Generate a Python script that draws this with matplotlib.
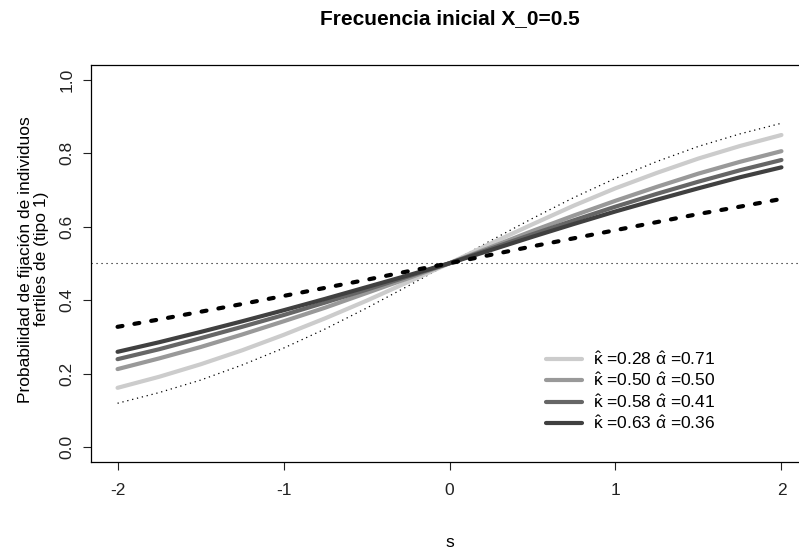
import matplotlib
matplotlib.use("Agg")
import matplotlib.pyplot as plt

plt.rcParams['font.family'] = ['Liberation Sans', 'DejaVu Sans']
plt.rcParams['mathtext.fontset'] = 'custom'
plt.rcParams['mathtext.rm'] = 'Liberation Sans'
plt.rcParams['mathtext.it'] = 'Liberation Sans'
plt.rcParams['mathtext.bf'] = 'Liberation Sans:bold'

# values at steps of 0.25 in s
s = [-2, -1.75, -1.5, -1.25, -1, -0.75, -0.5, -0.25, 0,
     0.25, 0.5, 0.75, 1, 1.25, 1.5, 1.75, 2]
ref_dotted = [0.119, 0.148, 0.182, 0.223, 0.269, 0.321, 0.378, 0.438, 0.5,
              0.562, 0.622, 0.679, 0.731, 0.777, 0.818, 0.852, 0.881]
p_k028 = [0.161, 0.191, 0.225, 0.263, 0.305, 0.350, 0.398, 0.449, 0.5,
          0.554, 0.606, 0.657, 0.704, 0.746, 0.785, 0.819, 0.849]
p_k050 = [0.212, 0.241, 0.272, 0.306, 0.342, 0.379, 0.419, 0.459, 0.5,
          0.544, 0.588, 0.630, 0.670, 0.708, 0.744, 0.776, 0.805]
p_k058 = [0.239, 0.266, 0.296, 0.327, 0.359, 0.393, 0.428, 0.464, 0.5,
          0.540, 0.579, 0.617, 0.654, 0.689, 0.722, 0.753, 0.781]
p_k063 = [0.259, 0.285, 0.313, 0.342, 0.372, 0.403, 0.435, 0.467, 0.5,
          0.536, 0.572, 0.607, 0.641, 0.673, 0.704, 0.734, 0.761]
dashed = [0.327, 0.347, 0.368, 0.389, 0.411, 0.433, 0.455, 0.478, 0.5,
          0.523, 0.546, 0.568, 0.590, 0.612, 0.634, 0.654, 0.675]

labels = [r'$\hat{\kappa}$ =0.28 $\hat{\alpha}$ =0.71',
          r'$\hat{\kappa}$ =0.50 $\hat{\alpha}$ =0.50',
          r'$\hat{\kappa}$ =0.58 $\hat{\alpha}$ =0.41',
          r'$\hat{\kappa}$ =0.63 $\hat{\alpha}$ =0.36']
greys = ['#cccccc', '#999999', '#666666', '#404040']

W, H = 799, 553
fs = 12.5
fig = plt.figure(figsize=(W / 100, H / 100), dpi=100)
ax = fig.add_axes([91 / W, 1 - 461.7 / H, (808 - 91) / W, (461.7 - 64.8) / H])

ax.plot(s, ref_dotted, color='black', lw=0.9, linestyle=(0, (1, 3)))
ax.axhline(0.5, color='black', lw=0.8, linestyle=(0, (1, 3.5)))
for ys, c, lab in zip([p_k028, p_k050, p_k058, p_k063], greys, labels):
    ax.plot(s, ys, color=c, lw=3, solid_capstyle='round', label=lab)
ax.plot(s, dashed, color='black', lw=3, linestyle=(0, (1.2, 2.9)),
        dash_capstyle='round')

ax.set_xlim(-2.16, 2.16)
ax.set_ylim(-0.04, 1.04)
ax.set_xticks([-2, -1, 0, 1, 2])
ax.set_xticklabels(['-2', '-1', '0', '1', '2'])
ax.set_yticks([0, 0.2, 0.4, 0.6, 0.8, 1.0])
ax.set_yticklabels(['0.0', '0.2', '0.4', '0.6', '0.8', '1.0'], rotation=90, va='center')
ax.tick_params(direction='out', length=6, width=0.8, labelsize=fs, colors='#222222')
ax.tick_params(axis='x', pad=9)
ax.tick_params(axis='y', pad=6)
for sp in ax.spines.values():
    sp.set_linewidth(0.9)

ax.set_xlabel('s', fontsize=fs)
ax.xaxis.set_label_coords(0.5, -0.185)
ax.set_ylabel('Probabilidad de fijación de individuos\nfertiles de (tipo 1)', fontsize=fs,
              linespacing=1.1)
ax.yaxis.set_label_coords(-0.058, 0.51)
ax.text(0.5, 1.116, 'Frecuencia inicial X_0=0.5', transform=ax.transAxes,
        ha='center', va='center', fontsize=15, fontweight='bold')

ax.legend(loc='upper left', bbox_to_anchor=(546 / W, 1 - 350 / H),
          bbox_transform=fig.transFigure, frameon=False, fontsize=fs,
          handlelength=2.1, handletextpad=0.6, labelspacing=0.22,
          borderpad=0, borderaxespad=0)

fig.savefig('out.png', dpi=100)
